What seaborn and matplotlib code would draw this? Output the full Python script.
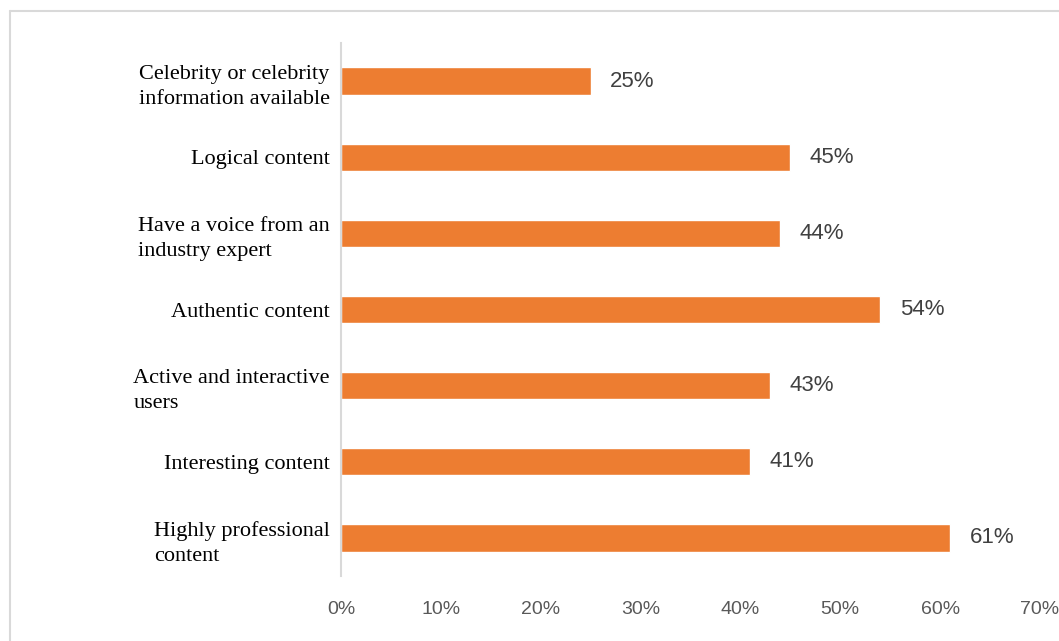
import matplotlib
matplotlib.use("Agg")
import matplotlib.pyplot as plt
from matplotlib.lines import Line2D
import seaborn as sns
import pandas as pd

# Survey results: share of respondents citing each factor
categories = [
    "Celebrity or celebrity\ninformation available",
    "Logical content",
    "Have a voice from an\nindustry expert",
    "Authentic content",
    "Active and interactive\nusers",
    "Interesting content",
    "Highly professional\ncontent",
]
values = [25, 45, 44, 54, 43, 41, 61]
x_ticks = [0, 10, 20, 30, 40, 50, 60, 70]
x_tick_labels = [f"{t}%" for t in x_ticks]

df = pd.DataFrame({"factor": categories, "share": values})

sns.set_theme(style="white")
sans = ["Liberation Sans", "DejaVu Sans"]
serif = ["Liberation Serif", "DejaVu Serif"]

fig = plt.figure(figsize=(10.59, 6.41), dpi=100)
ax = fig.add_axes([0.322, 0.1014, 0.660, 0.8315])

sns.barplot(data=df, x="share", y="factor", color="#ED7D31", width=0.36,
            saturation=1, ax=ax)

ax.set_xlim(0, 70)
ax.set_xticks(x_ticks)
ax.set_xticklabels(x_tick_labels, family=sans, fontsize=14, color="#595959")
ax.tick_params(axis="x", length=0, pad=18)
ax.tick_params(axis="y", length=0, pad=8)
ax.set_yticks(range(len(categories)))
ax.set_yticklabels(categories, family=serif, fontsize=16, color="black")
for lbl in ax.get_yticklabels():
    lbl.set_multialignment("left")
    lbl.set_linespacing(1.45)
ax.set_xlabel("")
ax.set_ylabel("")

for side in ["top", "right", "bottom"]:
    ax.spines[side].set_visible(False)
ax.spines["left"].set_color("#D9D9D9")
ax.spines["left"].set_linewidth(1.5)

ax.bar_label(ax.containers[0], labels=[f"{v}%" for v in values],
             padding=14, family=sans, fontsize=16, color="#404040")

# light frame around the chart area
fig.add_artist(Line2D([10 / 1059, 1.0], [1 - 11 / 641, 1 - 11 / 641],
                      transform=fig.transFigure, color="#D9D9D9", lw=1.5))
fig.add_artist(Line2D([10 / 1059, 10 / 1059], [0.0, 1 - 11 / 641],
                      transform=fig.transFigure, color="#D9D9D9", lw=1.5))

fig.savefig("out.png", dpi=100, facecolor="white")
